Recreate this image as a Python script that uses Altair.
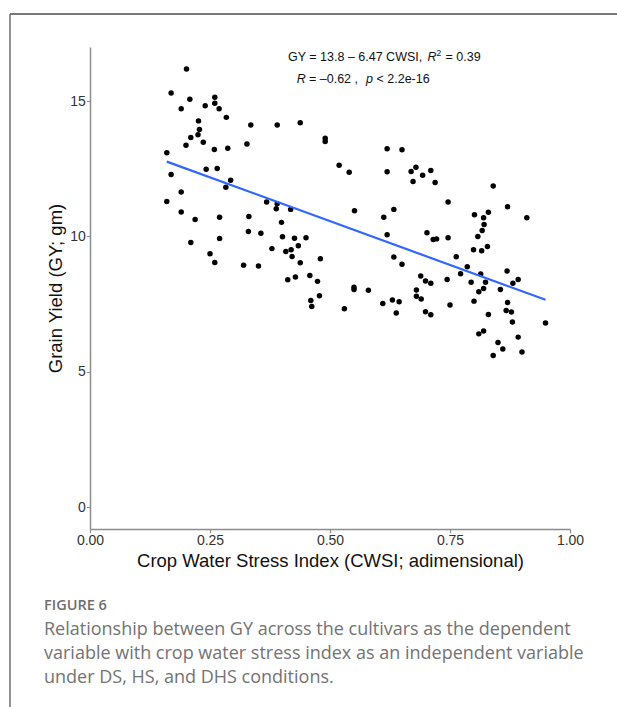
import altair as alt
import pandas as pd

# Crop water stress index (x) and grain yield in grams (y) per plot
cwsi = [
    0.201, 0.169, 0.208, 0.190, 0.260, 0.260, 0.240, 0.269, 0.284, 0.226,
    0.228, 0.225, 0.210, 0.200, 0.236, 0.259, 0.287, 0.335, 0.390, 0.438,
    0.327, 0.160, 0.169, 0.242, 0.265, 0.293, 0.283, 0.190, 0.160, 0.190,
    0.219, 0.270, 0.331, 0.368, 0.390, 0.388, 0.418, 0.210, 0.270, 0.250,
    0.260, 0.330, 0.356, 0.399, 0.401, 0.426, 0.379, 0.408, 0.419, 0.421,
    0.434, 0.438, 0.320, 0.351, 0.412, 0.428, 0.490, 0.490, 0.619, 0.650,
    0.519, 0.540, 0.619, 0.669, 0.679, 0.693, 0.710, 0.673, 0.719, 0.840,
    0.746, 0.870, 0.551, 0.633, 0.612, 0.801, 0.820, 0.830, 0.910, 0.821,
    0.817, 0.808, 0.450, 0.619, 0.702, 0.715, 0.722, 0.746, 0.799, 0.816,
    0.828, 0.480, 0.633, 0.650, 0.763, 0.786, 0.772, 0.814, 0.869, 0.892,
    0.881, 0.824, 0.794, 0.820, 0.810, 0.855, 0.744, 0.689, 0.699, 0.710,
    0.680, 0.680, 0.690, 0.699, 0.710, 0.750, 0.800, 0.870, 0.867, 0.878,
    0.830, 0.880, 0.949, 0.810, 0.820, 0.892, 0.458, 0.474, 0.550, 0.550,
    0.580, 0.478, 0.460, 0.462, 0.530, 0.610, 0.630, 0.644, 0.638, 0.850,
    0.860, 0.840, 0.900,
]
grain_yield = [
    16.19, 15.30, 15.07, 14.72, 15.14, 14.92, 14.83, 14.72, 14.40, 14.27,
    13.95, 13.76, 13.66, 13.37, 13.48, 13.21, 13.26, 14.12, 14.12, 14.20,
    13.42, 13.09, 12.29, 12.48, 12.51, 12.08, 11.82, 11.64, 11.29, 10.90,
    10.63, 10.71, 10.74, 11.27, 11.21, 11.02, 11.00, 9.78, 9.92, 9.36,
    9.04, 10.18, 10.12, 10.52, 9.99, 9.93, 9.55, 9.44, 9.51, 9.26,
    9.66, 9.03, 8.94, 8.91, 8.40, 8.50, 13.63, 13.51, 13.24, 13.20,
    12.63, 12.37, 12.39, 12.40, 12.56, 12.26, 12.44, 12.03, 11.99, 11.86,
    11.27, 11.10, 10.95, 11.00, 10.71, 10.80, 10.69, 10.89, 10.69, 10.44,
    10.22, 10.00, 9.95, 10.06, 10.14, 9.89, 9.91, 9.95, 9.51, 9.47,
    9.63, 9.18, 9.24, 8.97, 9.25, 8.88, 8.62, 8.61, 8.72, 8.41,
    8.27, 8.31, 8.31, 8.08, 7.96, 8.04, 8.41, 8.54, 8.35, 8.27,
    8.02, 7.79, 7.69, 7.22, 7.11, 7.47, 7.61, 7.56, 7.26, 7.21,
    7.12, 6.84, 6.80, 6.40, 6.51, 6.28, 8.56, 8.34, 8.12, 8.04,
    8.01, 7.81, 7.63, 7.41, 7.33, 7.52, 7.65, 7.59, 7.17, 6.08,
    5.84, 5.60, 5.73,
]

# Fitted linear model as reported in the equation label
intercept = 13.8
slope = -6.47

x_ticks = [0.0, 0.25, 0.5, 0.75, 1.0]
y_ticks = [0, 5, 10, 15]

x_title = "Crop Water Stress Index (CWSI; adimensional)"
y_title = "Grain Yield (GY; gm)"

figure_label = "FIGURE 6"
caption_lines = [
    "Relationship between GY across the cultivars as the dependent",
    "variable with crop water stress index as an independent variable",
    "under DS, HS, and DHS conditions.",
]

points = pd.DataFrame({"cwsi": cwsi, "gy": grain_yield})
x_lo, x_hi = min(cwsi), max(cwsi)
fit = pd.DataFrame({
    "cwsi": [x_lo, x_hi],
    "gy": [intercept + slope * x_lo, intercept + slope * x_hi],
})

AX_FONT = "Liberation Sans"
CAP_FONT = "Open Sans"
W, H = 480, 482

x_enc = alt.X(
    "cwsi:Q",
    scale=alt.Scale(domain=[0, 1], nice=False, zero=False),
    axis=alt.Axis(
        values=x_ticks, format=".2f", title=x_title,
        titleFontSize=18.5, titleFont=AX_FONT, titleFontWeight="normal",
        titleColor="#111111", titlePadding=4,
        labelFontSize=14, labelFont=AX_FONT, labelColor="#333333",
        labelPadding=1, labelFlush=False,
        tickSize=3.7, tickColor="#8c8c8c", tickWidth=1.2,
        domainColor="#8c8c8c", domainWidth=1.5, grid=False,
    ),
)
y_enc = alt.Y(
    "gy:Q",
    scale=alt.Scale(domain=[-0.81, 17.0], nice=False, zero=False),
    axis=alt.Axis(
        values=y_ticks, title=y_title,
        titleFontSize=18.5, titleFont=AX_FONT, titleFontWeight="normal",
        titleColor="#111111", titlePadding=4,
        labelFontSize=14, labelFont=AX_FONT, labelColor="#333333",
        labelPadding=1,
        tickSize=3.7, tickColor="#8c8c8c", tickWidth=1.2,
        domainColor="#8c8c8c", domainWidth=1.5, grid=False,
    ),
)

scatter = alt.Chart(points).mark_circle(size=30, color="black", opacity=1).encode(
    x=x_enc, y=y_enc
)
trend = alt.Chart(fit).mark_line(color="#3366FF", strokeWidth=2.2).encode(
    x="cwsi:Q", y="gy:Q"
)


def label(text, x, y, size, font=AX_FONT, style="normal", weight="normal",
          color="#111111"):
    """A single left-aligned text run placed at a pixel position."""
    return alt.Chart(pd.DataFrame({"t": [text]})).mark_text(
        align="left", baseline="alphabetic", fontSize=size, font=font,
        fontStyle=style, fontWeight=weight, color=color,
    ).encode(x=alt.value(x), y=alt.value(y), text="t:N")


# Regression annotation (positions relative to the plot origin)
ox, oy = 90, 47
annot = [
    label("GY = 13.8 \u2013 6.47 CWSI,", 288 - ox, 60.7 - oy, 12.5),
    label("R", 427.5 - ox, 60.7 - oy, 12.5, style="italic"),
    label("2", 436.5 - ox, 56 - oy, 8.5),
    label("= 0.39", 445.5 - ox, 60.7 - oy, 12.5),
    label("R", 296.7 - ox, 83.3 - oy, 12.5, style="italic"),
    label("= \u20130.62 ,", 309 - ox, 83.3 - oy, 12.5),
    label("p", 366 - ox, 83.3 - oy, 12.5, style="italic"),
    label("< 2.2e-16", 376.5 - ox, 83.3 - oy, 12.5),
]

caption = [label(figure_label, 44 - ox, 610 - oy, 14.5, font=CAP_FONT,
                 weight=600, color="#6e6e6e")]
for i, line in enumerate(caption_lines):
    caption.append(label(line, 44 - ox, 635 - oy + 24 * i, 18, font=CAP_FONT,
                         color="#737373"))

# Panel frame: a top rule and a left rule around the figure box
frame_top = alt.Chart(pd.DataFrame({"k": [0]})).mark_rule(
    color="#4d4d4d", strokeWidth=1.5
).encode(x=alt.value(10 - ox), x2=alt.value(617 - ox), y=alt.value(14 - oy))
frame_left = alt.Chart(pd.DataFrame({"k": [0]})).mark_rule(
    color="#6e6e6e", strokeWidth=1.5
).encode(x=alt.value(10 - ox), y=alt.value(14 - oy), y2=alt.value(707 - oy))

chart = alt.layer(
    frame_top, frame_left, scatter, trend, *annot, *caption
).properties(
    width=W, height=H,
    autosize=alt.AutoSizeParams(type="none"),
    padding={"left": ox, "top": oy, "right": 617 - ox - W, "bottom": 707 - oy - H},
    background="white",
).configure_view(stroke=None)

chart.save("out.html", embed_options={"renderer": "svg", "actions": False})
